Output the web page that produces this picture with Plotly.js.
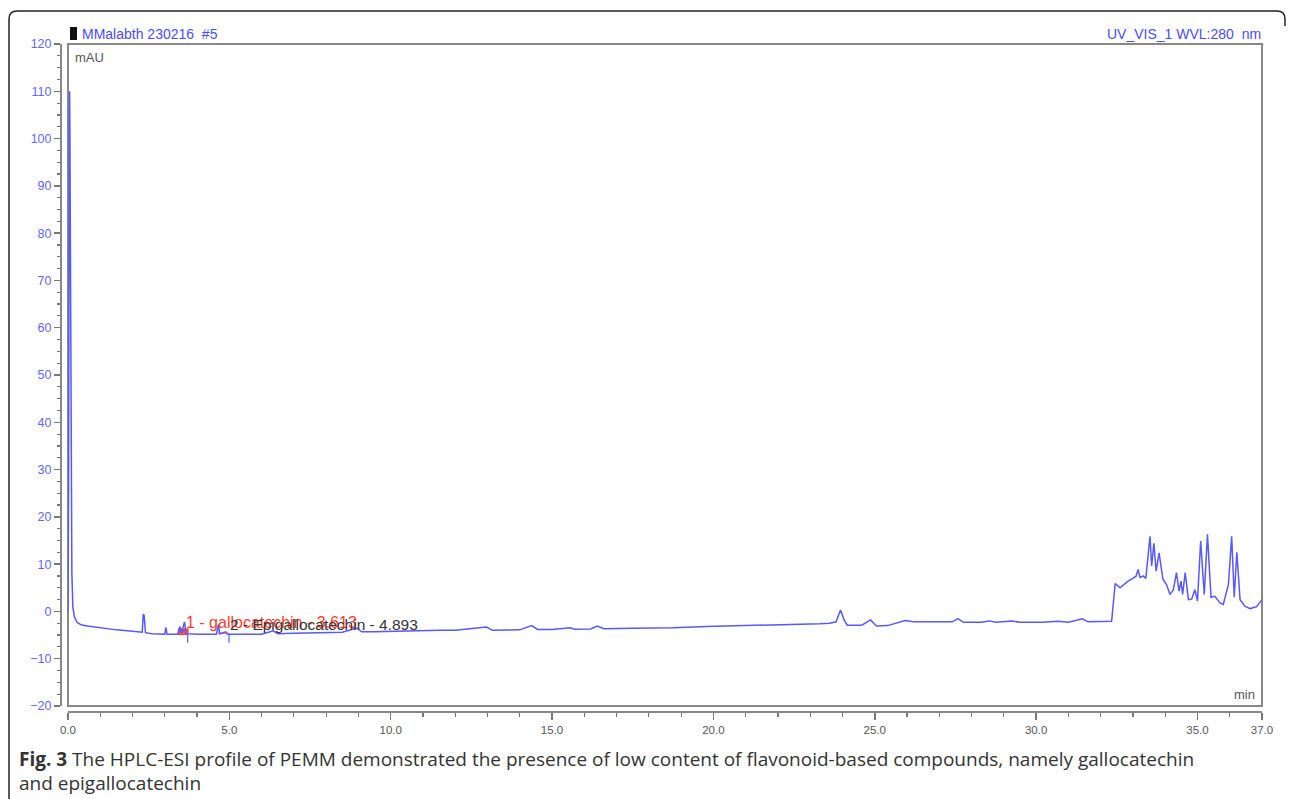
<!DOCTYPE html>
<html>
<head>
<meta charset="utf-8">
<script src="https://cdn.plot.ly/plotly-3.0.1.min.js"></script>
<style>
  html, body { margin: 0; padding: 0; background: #fff; }
  #chart { width: 1290px; height: 799px; }
</style>
</head>
<body>
<div id="chart"></div>
<script>
// Retention time (min) and absorbance (mAU)
const timeMin = [
  0.00, 0.02, 0.04, 0.05, 0.06, 0.08, 0.10, 0.12, 0.15, 0.20, 0.28, 0.40, 0.60, 1.00, 1.50, 2.00,
  2.30, 2.33, 2.36, 2.40, 2.60, 3.00, 3.03, 3.07, 3.40, 3.47, 3.52, 3.61, 3.66, 4.00, 4.60, 4.66,
  4.70, 4.89, 4.95, 5.50, 6.00, 6.36, 6.50, 7.00, 7.50, 8.00, 8.50, 8.95, 9.10, 9.50, 10.00, 10.50,
  11.00, 11.53, 12.00, 12.97, 13.15, 13.50, 14.00, 14.37, 14.55, 15.00, 15.56, 15.70, 16.20, 16.40,
  16.60, 17.50, 18.75, 19.79, 20.50, 21.44, 22.06, 22.68, 23.30, 23.60, 23.80, 23.94, 24.05, 24.15,
  24.60, 24.87, 25.05, 25.40, 25.94, 26.20, 27.00, 27.40, 27.58, 27.75, 28.30, 28.55, 28.75, 29.24,
  29.50, 30.20, 30.68, 31.00, 31.44, 31.60, 32.34, 32.45, 32.60, 32.85, 33.00, 33.10, 33.16, 33.22,
  33.32, 33.40, 33.53, 33.58, 33.65, 33.72, 33.81, 33.93, 34.04, 34.15, 34.25, 34.35, 34.43, 34.49,
  34.54, 34.62, 34.72, 34.82, 34.92, 35.00, 35.10, 35.21, 35.31, 35.42, 35.54, 35.70, 35.80, 35.96,
  36.06, 36.14, 36.22, 36.32, 36.47, 36.63, 36.83, 37.00
];
const absorbanceMAU = [
  0.0, 30, 105, 110, 100, 60, 25, 8, 1, -1.2, -2.3, -2.8, -3.1, -3.5, -3.9, -4.2,
  -4.4, -0.7, -0.8, -4.5, -4.7, -4.8, -3.4, -4.8, -4.8, -3.2, -4.6, -2.2, -4.7, -4.8, -4.8, -2.8,
  -4.7, -4.3, -4.8, -4.8, -4.8, -4.1, -4.7, -4.6, -4.5, -4.5, -4.4, -3.5, -4.3, -4.3, -4.2, -4.1,
  -4.1, -4.0, -4.0, -3.3, -4.0, -3.95, -3.9, -3.0, -3.8, -3.8, -3.45, -3.75, -3.7, -3.1,
  -3.65, -3.55, -3.45, -3.2, -3.1, -3.0, -2.9, -2.8, -2.6, -2.5, -2.2, 0.3, -1.8, -2.9,
  -2.9, -1.8, -3.1, -3.0, -1.9, -2.2, -2.3, -2.2, -1.5, -2.3, -2.3, -2.0, -2.3, -2.0,
  -2.3, -2.3, -2.1, -2.3, -1.55, -2.2, -2.1, 5.9, 5.0, 6.4, 7.0, 7.5, 8.9, 7.2,
  7.5, 7.0, 15.9, 9.6, 14.4, 8.5, 12.4, 6.8, 5.7, 3.6, 4.5, 8.2, 4.3, 6.4,
  3.6, 8.2, 2.5, 2.6, 4.6, 2.2, 14.9, 3.6, 16.3, 3.0, 3.2, 1.8, 1.5, 5.7,
  15.9, 3.0, 12.5, 2.5, 1.1, 0.6, 1.0, 2.5
];

// Integrated peaks
const peakLabels = ["1 - gallocatechin - 3.613", "2 - Epigallocatechin - 4.893"];
const peakLabelTime = [3.60, 4.95];
const peakLabelLevel = [-2.4, -2.75];
const peakLabelColors = ["#ff3b2f", "#333333"];
const peakLabelSizes = [16, 15.5];
// Peak delimiter ticks (blue, below baseline)
const delimiterTimes = [3.71, 4.99];
const delimiterLow = -6.6;
const delimiterHigh = -4.8;
// Red integration block for peak 1 and baseline for peak 2
const peak1BlockX = [3.42, 3.72, 3.72, 3.42, 3.42];
const peak1BlockY = [-3.7, -3.7, -4.9, -4.9, -3.7];
const peak2BaseX = [4.65, 4.99];
const peak2BaseY = [-4.65, -4.65];

// Axis ticks
const xTickVals = [0, 5, 10, 15, 20, 25, 30, 35, 37];
const xTickText = ["0.0", "5.0", "10.0", "15.0", "20.0", "25.0", "30.0", "35.0", "37.0"];
const yTickVals = [-20, -10, 0, 10, 20, 30, 40, 50, 60, 70, 80, 90, 100, 110, 120];

const blue = "rgb(88,88,255)";

// delimiter line data
const delimX = [], delimY = [];
delimiterTimes.forEach(t => { delimX.push(t, t, null); delimY.push(delimiterHigh, delimiterLow, null); });

const traces = [
  {
    x: peak1BlockX, y: peak1BlockY, type: "scatter", mode: "lines",
    fill: "toself", fillcolor: "rgba(255,60,50,0.9)", line: {color: "rgb(255,60,50)", width: 1},
    hoverinfo: "skip", showlegend: false
  },
  {
    x: peak2BaseX, y: peak2BaseY, type: "scatter", mode: "lines",
    line: {color: "rgb(255,120,120)", width: 1.5}, hoverinfo: "skip", showlegend: false
  },
  {
    x: timeMin, y: absorbanceMAU, type: "scatter", mode: "lines",
    line: {color: blue, width: 1.5}, showlegend: false
  },
  {
    x: delimX, y: delimY, type: "scatter", mode: "lines",
    line: {color: blue, width: 1.2}, hoverinfo: "skip", showlegend: false
  }
];

const W = 1290, H = 799;
const mL = 61, mR = 28, mT = 44, mB = 87;
const pw = W - mL - mR, ph = H - mT - mB;
const px = v => (v - mL) / pw;
const py = v => (H - mB - v) / ph;

const layout = {
  width: W, height: H,
  margin: {l: mL, r: mR, t: mT, b: mB, pad: 0},
  paper_bgcolor: "#ffffff", plot_bgcolor: "#ffffff",
  font: {family: "Liberation Sans, Arial, sans-serif", size: 12, color: "#333"},
  xaxis: {
    domain: [7 / pw, 1], range: [0, 37], anchor: "free", position: 0,
    showgrid: false, zeroline: false, showline: true, linecolor: "#888", linewidth: 2,
    ticks: "outside", ticklen: 7, tickwidth: 1.5, tickcolor: "#777",
    tickvals: xTickVals, ticktext: xTickText,
    tickfont: {family: "Liberation Sans, Arial, sans-serif", size: 11.5, color: "#555"},
    minor: {dtick: 1, tick0: 0, ticks: "outside", ticklen: 4, tickwidth: 1.2, tickcolor: "#777", showgrid: false}
  },
  yaxis: {
    domain: [6 / ph, 1], range: [-20, 120], anchor: "free", position: 0,
    showgrid: false, zeroline: false, showline: true, linecolor: "#888", linewidth: 2,
    ticks: "outside", ticklen: 6, tickwidth: 1.5, tickcolor: "#777",
    tickvals: yTickVals,
    tickfont: {family: "Liberation Sans, Arial, sans-serif", size: 12.5, color: "#6464ff"},
    minor: {dtick: 2.5, tick0: 0, ticks: "outside", ticklen: 3, tickwidth: 1.2, tickcolor: "#777", showgrid: false}
  },
  shapes: [
    {type: "rect", xref: "x domain", yref: "y domain", x0: 0, x1: 1, y0: 0, y1: 1,
     line: {color: "#888", width: 2}, layer: "below"},
    {type: "rect", xref: "paper", yref: "paper", x0: px(70), x1: px(77), y0: py(40), y1: py(27),
     fillcolor: "#111", line: {width: 0}},
    {type: "path", xref: "paper", yref: "paper",
     path: `M ${px(9)} ${py(799)} L ${px(9)} ${py(19)} Q ${px(9)} ${py(11)} ${px(17)} ${py(11)} L ${px(1277)} ${py(11)} Q ${px(1285)} ${py(11)} ${px(1285)} ${py(19)} L ${px(1285)} ${py(26)}`,
     line: {color: "#222", width: 1.5}}
  ],
  annotations: [
    {text: "MMalabth 230216  #5", xref: "paper", yref: "paper", x: px(80), y: py(34),
     xanchor: "left", yanchor: "middle", showarrow: false,
     font: {family: "Liberation Sans, Arial, sans-serif", size: 14, color: "#4b4bff"}},
    {text: "UV_VIS_1 WVL:280  nm", xref: "paper", yref: "paper", x: px(1263), y: py(34),
     xanchor: "right", yanchor: "middle", showarrow: false,
     font: {family: "Liberation Sans, Arial, sans-serif", size: 14, color: "#4b4bff"}},
    {text: "mAU", xref: "paper", yref: "paper", x: px(73), y: py(57),
     xanchor: "left", yanchor: "middle", showarrow: false,
     font: {family: "Liberation Sans, Arial, sans-serif", size: 13, color: "#555"}},
    {text: "min", xref: "paper", yref: "paper", x: px(1257), y: py(694),
     xanchor: "right", yanchor: "middle", showarrow: false,
     font: {family: "Liberation Sans, Arial, sans-serif", size: 13, color: "#555"}},
    {text: "<b>Fig. 3</b> The HPLC-ESI profile of PEMM demonstrated the presence of low content of flavonoid-based compounds, namely gallocatechin",
     xref: "paper", yref: "paper", x: px(17), y: py(759), xanchor: "left", yanchor: "middle", showarrow: false,
     font: {family: "Open Sans, sans-serif", size: 19, color: "#333"}},
    {text: "and epigallocatechin",
     xref: "paper", yref: "paper", x: px(17), y: py(783), xanchor: "left", yanchor: "middle", showarrow: false,
     font: {family: "Open Sans, sans-serif", size: 19, color: "#333"}}
  ]
};

peakLabels.forEach((t, i) => {
  layout.annotations.push({
    text: t, xref: "x", yref: "y", x: peakLabelTime[i], y: peakLabelLevel[i],
    xanchor: "left", yanchor: "middle", showarrow: false,
    font: {family: "Liberation Sans, Arial, sans-serif", size: peakLabelSizes[i], color: peakLabelColors[i]}
  });
});

Plotly.newPlot("chart", traces, layout, {displayModeBar: false, staticPlot: true});
</script>
</body>
</html>
